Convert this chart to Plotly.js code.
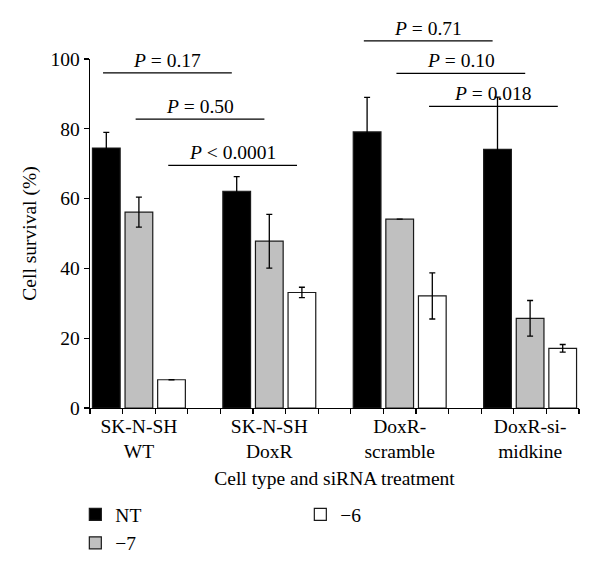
<!DOCTYPE html>
<html>
<head>
<meta charset="utf-8">
<script src="https://cdn.plot.ly/plotly-3.0.1.min.js"></script>
<style>html,body{margin:0;padding:0;background:#fff;}#chart{width:600px;height:572px;}</style>
</head>
<body>
<div id="chart"></div>
<script>
// ---- data ----
const groups = ["SK-N-SH<br>WT", "SK-N-SH<br>DoxR", "DoxR-<br>scramble", "DoxR-si-<br>midkine"];
const seriesNames = ["NT", "\u22127", "\u22126"];
const ntValues = [74.5, 62.1, 79.1, 74.1];
const ntErrors = [4.5, 4.2, 9.9, 15.0];
const m7Values = [56.1, 47.8, 54.1, 25.7];
const m7Errors = [4.3, 7.7, null, 5.1];
const m6Values = [8.1, 33.1, 32.1, 17.1];
const m6Errors = [null, 1.5, 6.6, 1.1];
// P-value comparisons
const pLabels = ["<i>P</i> = 0.17", "<i>P</i> = 0.50", "<i>P</i> < 0.0001", "<i>P</i> = 0.71", "<i>P</i> = 0.10", "<i>P</i> = 0.018"];
const pLineY = [96.0, 82.8, 69.5, 105.2, 95.9, 86.4];
const pFrom = [[0, 0], [0, 1], [0, 2], [2, 0], [2, 1], [2, 2]];
const pTo = [[1, 0], [1, 1], [1, 2], [3, 0], [3, 1], [3, 2]];

// ---- layout helpers ----
const slotsPerGroup = 4;
const pos = (g, s) => g * slotsPerGroup + s + 0.5;
const fontFam = '"Liberation Serif", "Times New Roman", serif';
const FS = 19.5;
const fills = ["#000000", "#c0c0c0", "#ffffff"];
const vals = [ntValues, m7Values, m6Values];
const errs = [ntErrors, m7Errors, m6Errors];
const ranks = [1, 3, 2];

const traces = seriesNames.map((name, s) => ({
  type: 'bar',
  name: name,
  x: groups.map((_, g) => pos(g, s)),
  y: vals[s],
  width: 0.85,
  legendrank: ranks[s],
  marker: {color: fills[s], line: {color: '#1a1a1a', width: 1.2}},
  error_y: {type: 'data', array: errs[s], visible: true, color: '#000', thickness: 1.3, width: 3},
  hoverinfo: 'skip'
}));

const shapes = [];
const annotations = [];
pLabels.forEach((lab, i) => {
  const x0 = pos(pFrom[i][0], pFrom[i][1]) - 0.1;
  const x1 = pos(pTo[i][0], pTo[i][1]) - 0.15;
  shapes.push({type: 'line', xref: 'x', yref: 'paper', x0: x0, x1: x1,
    y0: pLineY[i] / 100, y1: pLineY[i] / 100, line: {color: '#000', width: 1.3}});
  annotations.push({xref: 'x', yref: 'paper', x: (x0 + x1) / 2, y: pLineY[i] / 100,
    yanchor: 'bottom', yshift: 0, showarrow: false, text: lab,
    font: {family: fontFam, size: FS, color: '#000'}});
});

const layout = {
  width: 600, height: 572,
  margin: {l: 90, r: 21, t: 59, b: 164, autoexpand: false},
  paper_bgcolor: '#fff', plot_bgcolor: '#fff',
  font: {family: fontFam, size: FS, color: '#000'},
  bargap: 0,
  showlegend: true,
  legend: {orientation: 'h', x: -0.03, xanchor: 'left', y: -0.25, yanchor: 'top',
    entrywidth: 180, entrywidthmode: 'pixels', traceorder: 'normal',
    font: {family: fontFam, size: FS}, bgcolor: 'rgba(0,0,0,0)'},
  xaxis: {
    range: [0, 15], showgrid: false, zeroline: false, automargin: false,
    showline: true, linecolor: '#000', linewidth: 1.3,
    tickmode: 'array', tickvals: groups.map((_, g) => pos(g, 1)), ticktext: groups,
    ticks: '', tickfont: {family: fontFam, size: FS},
    minor: {ticks: 'outside', ticklen: 5, tickwidth: 1.3, tickcolor: '#000', dtick: 1, tick0: 0, showgrid: false},
    title: {text: 'Cell type and siRNA treatment', font: {family: fontFam, size: FS}, standoff: 10},
    fixedrange: true
  },
  yaxis: {
    range: [0, 100], showgrid: false, zeroline: false, automargin: false,
    showline: true, linecolor: '#000', linewidth: 1.3,
    tickmode: 'linear', tick0: 0, dtick: 20,
    ticks: 'outside', ticklen: 5, tickwidth: 1.3, tickcolor: '#000',
    tickfont: {family: fontFam, size: FS},
    title: {text: 'Cell survival (%)', font: {family: fontFam, size: FS}, standoff: 8},
    fixedrange: true
  },
  shapes: shapes,
  annotations: annotations
};

Plotly.newPlot('chart', traces, layout, {displayModeBar: false, staticPlot: true});
</script>
</body>
</html>
